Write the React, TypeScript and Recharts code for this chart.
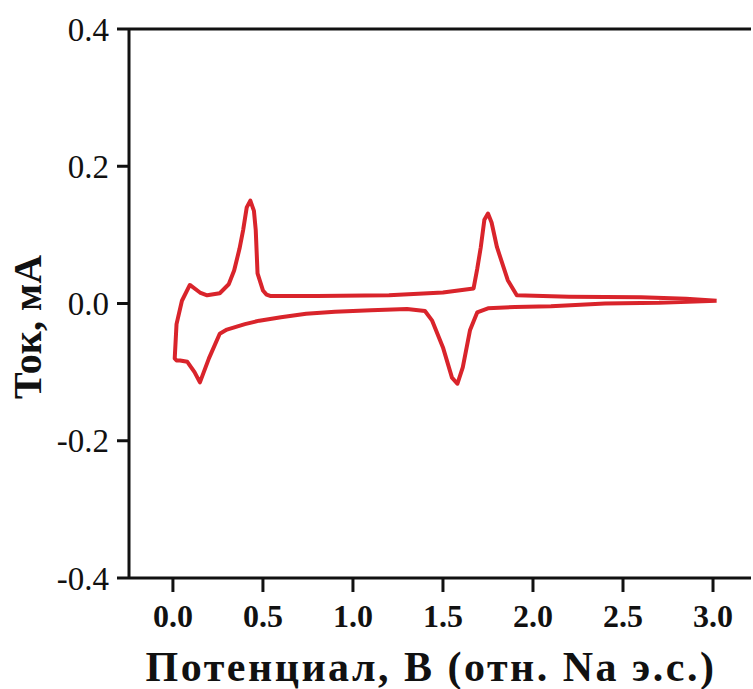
import { LineChart, Line, XAxis, YAxis, ReferenceLine } from 'recharts'

const RED = '#d9242b'
const INK = '#111111'
const FONT = '"Liberation Serif", "Times New Roman", serif'

// cathodic sweep, 3.0 V -> 0.01 V
const cathodicX = [3.02, 2.9, 2.7, 2.4, 2.1, 1.9, 1.75, 1.69, 1.65, 1.61, 1.58, 1.55, 1.5, 1.44, 1.4, 1.3, 1.1, 0.9, 0.74, 0.6, 0.48, 0.4, 0.3, 0.26, 0.2, 0.15, 0.12, 0.08, 0.04, 0.02, 0.01]
const cathodicY = [0.004, 0.003, 0.001, 0.0, -0.004, -0.005, -0.007, -0.013, -0.039, -0.093, -0.117, -0.108, -0.064, -0.025, -0.011, -0.008, -0.01, -0.012, -0.015, -0.02, -0.025, -0.03, -0.038, -0.044, -0.08, -0.115, -0.1, -0.085, -0.083, -0.083, -0.08]

// anodic sweep, back to 3.0 V
const anodicX = [0.01, 0.02, 0.05, 0.094, 0.15, 0.19, 0.26, 0.31, 0.34, 0.37, 0.39, 0.41, 0.43, 0.45, 0.46, 0.47, 0.5, 0.52, 0.54, 0.8, 1.2, 1.5, 1.67, 1.69, 1.71, 1.73, 1.75, 1.77, 1.8, 1.86, 1.91, 2.2, 2.6, 2.85, 3.02]
const anodicY = [-0.08, -0.03, 0.004, 0.027, 0.016, 0.012, 0.015, 0.028, 0.048, 0.08, 0.107, 0.14, 0.15, 0.135, 0.107, 0.044, 0.019, 0.013, 0.011, 0.011, 0.012, 0.016, 0.022, 0.05, 0.082, 0.122, 0.131, 0.118, 0.082, 0.034, 0.012, 0.01, 0.009, 0.007, 0.004]

const xTicks = [0, 0.5, 1.0, 1.5, 2.0, 2.5, 3.0]
const yTicks = [-0.4, -0.2, 0, 0.2, 0.4]

const cv = [
  ...cathodicX.map((x, i) => ({ x, y: cathodicY[i] })),
  ...anodicX.map((x, i) => ({ x, y: anodicY[i] })),
]

export default function App() {
  return (
    <div style={{ position: 'absolute', left: 0, top: 0, background: '#fff' }}>
      <LineChart width={753} height={689} data={cv} margin={{ top: 29, right: 2, left: 0, bottom: 0 }}>
        <XAxis
          type="number"
          dataKey="x"
          domain={[-0.244, 3.211]}
          ticks={xTicks}
          allowDataOverflow
          tickFormatter={(v: number) => v.toFixed(1)}
          height={111}
          tickSize={14}
          tickMargin={12}
          stroke={INK}
          strokeWidth={3}
          tick={{ fontSize: 32, fontWeight: 'bold', fill: INK, fontFamily: FONT }}
          label={{
            value: 'Потенциал, В (отн. Na э.с.)',
            position: 'insideBottom',
            offset: 8,
            dx: -9,
            style: { fontSize: 42, fontWeight: 'bold', fill: INK, fontFamily: FONT, letterSpacing: 2.5 },
          }}
        />
        <YAxis
          type="number"
          domain={[-0.4, 0.4]}
          ticks={yTicks}
          tickFormatter={(v: number) => v.toFixed(1)}
          width={129}
          tickSize={12}
          tickMargin={8}
          stroke={INK}
          strokeWidth={3}
          tick={{ fontSize: 33, fill: INK, fontFamily: FONT }}
          label={{
            content: () => (
              <text
                x={27}
                y={327}
                transform="rotate(-90 27 327)"
                textAnchor="middle"
                dominantBaseline="central"
                style={{ fontSize: 40, fontWeight: 'bold', fill: INK, fontFamily: FONT }}
              >
                Ток, мА
              </text>
            ),
          }}
        />
        <ReferenceLine y={0.4} stroke={INK} strokeWidth={3} />
        <Line
          type="linear"
          dataKey="y"
          stroke={RED}
          strokeWidth={4}
          dot={false}
          strokeLinejoin="round"
          isAnimationActive={false}
        />
      </LineChart>
    </div>
  )
}
